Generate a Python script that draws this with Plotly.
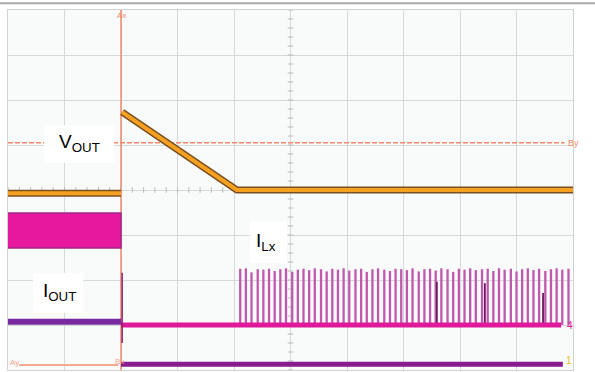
import plotly.graph_objects as go
import numpy as np

# ---- data (screen divisions: x 0..10, y 0..8) ----
vout_x = [0.0, 2.0, None, 2.02, 4.05, 10.0]
vout_y = [3.93, 3.93, None, 5.73, 4.0, 4.0]

band_x = [0.0, 2.0]
band_lo = [2.71, 2.71]
band_hi = [3.49, 3.49]

iout_pre_x = [0.0, 2.0]
iout_pre_y = [1.07, 1.07]
iout_post_x = [2.0, 9.82]
iout_post_y = [0.13, 0.13]
spike_x = [2.02, 2.02]
spike_y = [0.6, 2.16]

ilx_base_x = [2.0, 9.79]
ilx_base_y = [1.0, 1.0]

pulse_t = [4.11, 4.21, 4.31, 4.42, 4.52, 4.62, 4.72, 4.82, 4.92, 5.03,
           5.13, 5.23, 5.33, 5.43, 5.54, 5.64, 5.74, 5.84, 5.94, 6.04,
           6.15, 6.25, 6.35, 6.45, 6.55, 6.66, 6.76, 6.86, 6.96, 7.06,
           7.16, 7.27, 7.37, 7.47, 7.57, 7.67, 7.78, 7.88, 7.98, 8.08,
           8.18, 8.28, 8.39, 8.49, 8.59, 8.69, 8.79, 8.90, 9.00, 9.10,
           9.20, 9.30, 9.40, 9.51, 9.61, 9.71, 9.81, 9.92]
pulse_h = [2.25, 2.26, 2.17, 2.24, 2.23, 2.25, 2.20, 2.24, 2.26, 2.18,
           2.23, 2.25, 2.22, 2.26, 2.24, 2.19, 2.25, 2.23, 2.26, 2.21,
           2.24, 2.25, 2.18, 2.24, 2.26, 2.23, 2.20, 2.25, 2.24, 2.22,
           2.26, 2.19, 2.24, 2.25, 2.21, 2.26, 2.24, 2.18, 2.25, 2.23,
           2.26, 2.22, 2.24, 2.25, 2.20, 2.26, 2.23, 2.25, 2.19, 2.24,
           2.26, 2.22, 2.25, 2.20, 2.24, 2.26, 2.23, 2.25]
dark_t = [7.59, 8.44, 9.47]
dark_h = [1.96, 1.93, 1.71]

cursor_x = 2.0
cursor_y = 5.05

def segs(ts, hs, base):
    xs, ys = [], []
    for t, h in zip(ts, hs):
        xs += [t, t, None]
        ys += [base, h, None]
    return xs, ys

fig = go.Figure()

# center graticule ticks
minor = np.arange(0, 10.001, 0.2)
fig.add_trace(go.Scatter(x=minor, y=[4.0] * len(minor), mode="markers",
                         marker=dict(symbol="line-ns", size=4, line=dict(width=1, color="#b8bcbc")),
                         hoverinfo="skip", showlegend=False))
minor_y = np.arange(0, 8.001, 0.2)
fig.add_trace(go.Scatter(x=[5.0] * len(minor_y), y=minor_y, mode="markers",
                         marker=dict(symbol="line-ew", size=4, line=dict(width=1, color="#b8bcbc")),
                         hoverinfo="skip", showlegend=False))

# cursor lines
fig.add_trace(go.Scatter(x=[0.0, 9.85], y=[cursor_y, cursor_y], mode="lines",
                         line=dict(color="#f08a6a", width=1.5, dash="5px,2px"), showlegend=False))
fig.add_trace(go.Scatter(x=[cursor_x, cursor_x], y=[0, 8], mode="lines",
                         line=dict(color="#f08a6a", width=1.5), showlegend=False))
fig.add_trace(go.Scatter(x=[0.2, 1.95], y=[0.11, 0.11], mode="lines",
                         line=dict(color="#f4a88c", width=2), showlegend=False))

# magenta band
fig.add_trace(go.Scatter(x=band_x + band_x[::-1], y=band_hi + band_lo[::-1], fill="toself",
                         fillcolor="#e8189e", mode="lines", line=dict(color="#a02888", width=1.5),
                         showlegend=False))

# pulses
px, py = segs(pulse_t, pulse_h, 1.0)
fig.add_trace(go.Scatter(x=px, y=py, mode="lines", line=dict(color="#c058b0", width=2.3),
                         showlegend=False))
dx, dy = segs(dark_t, dark_h, 1.0)
fig.add_trace(go.Scatter(x=dx, y=dy, mode="lines", line=dict(color="#6a1a5a", width=1.8),
                         showlegend=False))

# ILx baseline
fig.add_trace(go.Scatter(x=ilx_base_x, y=ilx_base_y, mode="lines",
                         line=dict(color="#e0189a", width=5), showlegend=False))
# IOUT
fig.add_trace(go.Scatter(x=iout_pre_x, y=iout_pre_y, mode="lines",
                         line=dict(color="#7a2aa0", width=6), showlegend=False))
fig.add_trace(go.Scatter(x=iout_post_x, y=iout_post_y, mode="lines",
                         line=dict(color="#8a1a90", width=5), showlegend=False))
fig.add_trace(go.Scatter(x=spike_x, y=spike_y, mode="lines",
                         line=dict(color="#8a2070", width=1.5), showlegend=False))

# VOUT
fig.add_trace(go.Scatter(x=vout_x, y=vout_y, mode="lines",
                         line=dict(color="#7a5020", width=7), showlegend=False))
fig.add_trace(go.Scatter(x=vout_x, y=vout_y, mode="lines",
                         line=dict(color="#f5a020", width=4), showlegend=False))

shapes = [
    dict(type="rect", xref="x", yref="y", x0=0.64, x1=1.88, y0=4.6, y1=5.44,
         fillcolor="white", line=dict(width=0), layer="above"),
    dict(type="rect", xref="x", yref="y", x0=0.44, x1=1.33, y0=1.27, y1=2.16,
         fillcolor="white", line=dict(width=0), layer="above"),
    dict(type="rect", xref="x", yref="y", x0=4.28, x1=4.94, y0=2.38, y1=3.3,
         fillcolor="white", line=dict(width=0), layer="above"),
    dict(type="line", xref="paper", yref="paper", x0=-0.02, x1=1.04, y0=1.019, y1=1.019,
         line=dict(color="#a8a8a8", width=2)),
]

F = "Liberation Sans, Arial, sans-serif"
ann = [
    dict(x=1.26, y=5.04, text="V<sub>OUT</sub>", font=dict(size=19, color="black", family=F)),
    dict(x=0.92, y=1.73, text="I<sub>OUT</sub>", font=dict(size=19, color="black", family=F)),
    dict(x=4.57, y=2.84, text="I<sub>Lx</sub>", font=dict(size=19, color="black", family=F)),
    dict(x=9.88, y=cursor_y, text="By", xanchor="left", font=dict(size=9, color="#f08a6a", family=F)),
    dict(x=2.0, y=7.88, text="Ax", font=dict(size=8, color="#f08a6a", family=F)),
    dict(x=0.12, y=0.16, text="Ay", font=dict(size=8, color="#f4a88c", family=F)),
    dict(x=1.97, y=0.18, text="Bx", font=dict(size=8, color="#f4a88c", family=F)),
    dict(x=9.95, y=1.0, text="4", font=dict(size=10, color="#e0189a", family=F)),
    dict(x=10.15, y=0.98, text="\u2195", font=dict(size=10, color="#e0189a", family=F)),
    dict(x=9.93, y=0.22, text="1", font=dict(size=10, color="#f0c020", family=F)),
    dict(x=10.15, y=0.2, text="\u2195", font=dict(size=10, color="#f0c020", family=F)),
    dict(x=10.3, y=0.45, text="T", font=dict(size=9, color="#7a2aa0", family=F)),
]
for a in ann:
    a.setdefault("xanchor", "center")
    a["yanchor"] = "middle"
    a["showarrow"] = False
    a["xref"] = "x"
    a["yref"] = "y"

fig.update_layout(
    width=595, height=372,
    margin=dict(l=8, r=22, t=10, b=2, autoexpand=False),
    paper_bgcolor="white", plot_bgcolor="#f9fafa",
    xaxis=dict(range=[0, 10], dtick=1, showgrid=True, gridcolor="#d6d9d9", gridwidth=1,
               showticklabels=False, zeroline=False, showline=True, linecolor="#d0d3d3", mirror=True,
               ticks=""),
    yaxis=dict(range=[0, 8], dtick=1, showgrid=True, gridcolor="#d6d9d9", gridwidth=1,
               showticklabels=False, zeroline=False, showline=True, linecolor="#d0d3d3", mirror=True,
               ticks=""),
    shapes=shapes, annotations=ann, showlegend=False,
)
fig.write_html("out.html", config={"displayModeBar": False},
               post_script="document.body.style.margin='0';document.body.style.padding='0';")
